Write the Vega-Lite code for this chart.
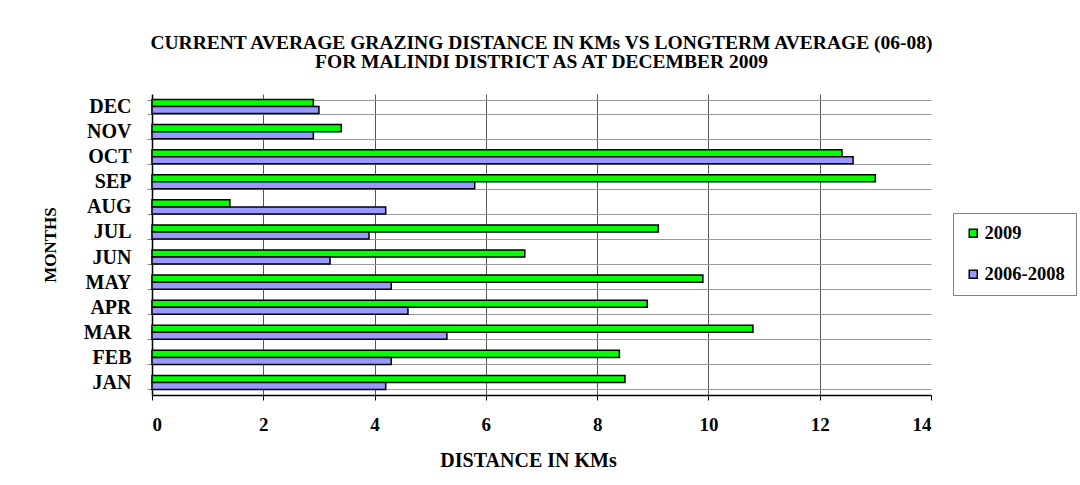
{
  "$schema": "https://vega.github.io/schema/vega-lite/v6.json",
  "width": 779,
  "height": 301,
  "autosize": "none",
  "padding": {"left": 152, "top": 94, "right": 149, "bottom": 90},
  "background": "white",
  "title": {
    "text": ["CURRENT AVERAGE GRAZING DISTANCE IN KMs VS LONGTERM AVERAGE (06-08)", "FOR MALINDI DISTRICT AS AT DECEMBER 2009"],
    "font": "Liberation Serif",
    "fontSize": 19.5,
    "fontWeight": "bold",
    "color": "black",
    "anchor": "middle",
    "frame": "group",
    "offset": 12,
    "lineHeight": 19
  },
  "data": {
    "values": [
      {"month": "JAN", "series": "2009", "km": 8.5},
      {"month": "JAN", "series": "2006-2008", "km": 4.2},
      {"month": "FEB", "series": "2009", "km": 8.4},
      {"month": "FEB", "series": "2006-2008", "km": 4.3},
      {"month": "MAR", "series": "2009", "km": 10.8},
      {"month": "MAR", "series": "2006-2008", "km": 5.3},
      {"month": "APR", "series": "2009", "km": 8.9},
      {"month": "APR", "series": "2006-2008", "km": 4.6},
      {"month": "MAY", "series": "2009", "km": 9.9},
      {"month": "MAY", "series": "2006-2008", "km": 4.3},
      {"month": "JUN", "series": "2009", "km": 6.7},
      {"month": "JUN", "series": "2006-2008", "km": 3.2},
      {"month": "JUL", "series": "2009", "km": 9.1},
      {"month": "JUL", "series": "2006-2008", "km": 3.9},
      {"month": "AUG", "series": "2009", "km": 1.4},
      {"month": "AUG", "series": "2006-2008", "km": 4.2},
      {"month": "SEP", "series": "2009", "km": 13.0},
      {"month": "SEP", "series": "2006-2008", "km": 5.8},
      {"month": "OCT", "series": "2009", "km": 12.4},
      {"month": "OCT", "series": "2006-2008", "km": 12.6},
      {"month": "NOV", "series": "2009", "km": 3.4},
      {"month": "NOV", "series": "2006-2008", "km": 2.9},
      {"month": "DEC", "series": "2009", "km": 2.9},
      {"month": "DEC", "series": "2006-2008", "km": 3.0}
    ]
  },
  "mark": {"type": "bar", "stroke": "black", "strokeWidth": 1.5, "cornerRadius": 0},
  "encoding": {
    "y": {
      "field": "month",
      "type": "nominal",
      "sort": ["DEC", "NOV", "OCT", "SEP", "AUG", "JUL", "JUN", "MAY", "APR", "MAR", "FEB", "JAN"],
      "scale": {"paddingInner": 0.44, "paddingOuter": 0.22},
      "axis": {
        "title": "MONTHS",
        "titleFont": "Liberation Serif",
        "titleFontSize": 17,
        "titleFontWeight": "bold",
        "titleColor": "black",
        "titlePadding": 24,
        "labelFont": "Liberation Serif",
        "labelFontSize": 20,
        "labelFontWeight": "bold",
        "labelColor": "black",
        "labelPadding": 16,
        "tickBand": "extent",
        "tickSize": 5,
        "tickColor": "#888888",
        "grid": true,
        "gridColor": "#999999",
        "gridWidth": 1,
        "domainColor": "black",
        "domainWidth": 1.5
      }
    },
    "yOffset": {
      "field": "series",
      "type": "nominal",
      "sort": ["2009", "2006-2008"],
      "scale": {"paddingInner": 0, "paddingOuter": 0}
    },
    "x": {
      "field": "km",
      "type": "quantitative",
      "scale": {"domain": [0, 14], "nice": false},
      "axis": {
        "title": "DISTANCE IN KMs",
        "values": [0, 2, 4, 6, 8, 10, 12, 14],
        "titleFont": "Liberation Serif",
        "titleFontSize": 20,
        "titleFontWeight": "bold",
        "titleColor": "black",
        "titlePadding": 16,
        "titleX": 376,
        "titleAlign": "center",
        "labelFont": "Liberation Serif",
        "labelFontSize": 19,
        "labelFontWeight": "bold",
        "labelColor": "black",
        "labelPadding": 15,
        "tickSize": 5,
        "tickColor": "black",
        "grid": true,
        "gridColor": "#555555",
        "gridOpacity": {"condition": {"test": "datum.value == 0 || datum.value == 14", "value": 0}, "value": 1},
        "domainColor": "black",
        "domainWidth": 1.5
      }
    },
    "color": {
      "field": "series",
      "type": "nominal",
      "sort": ["2009", "2006-2008"],
      "scale": {"domain": ["2009", "2006-2008"], "range": ["#00ff00", "#9999ff"]},
      "legend": {
        "title": null,
        "orient": "none",
        "legendX": 801,
        "legendY": 119,
        "symbolType": "square",
        "symbolSize": 64,
        "symbolStrokeColor": "black",
        "symbolStrokeWidth": 1.5,
        "symbolOpacity": 1,
        "labelFont": "Liberation Serif",
        "labelFontSize": 18.5,
        "labelFontWeight": "bold",
        "labelColor": "black",
        "labelOffset": 2,
        "rowPadding": 22,
        "padding": 11,
        "strokeColor": "#808080",
        "fillColor": "white"
      }
    }
  },
  "config": {
    "view": {"stroke": null}
  }
}
